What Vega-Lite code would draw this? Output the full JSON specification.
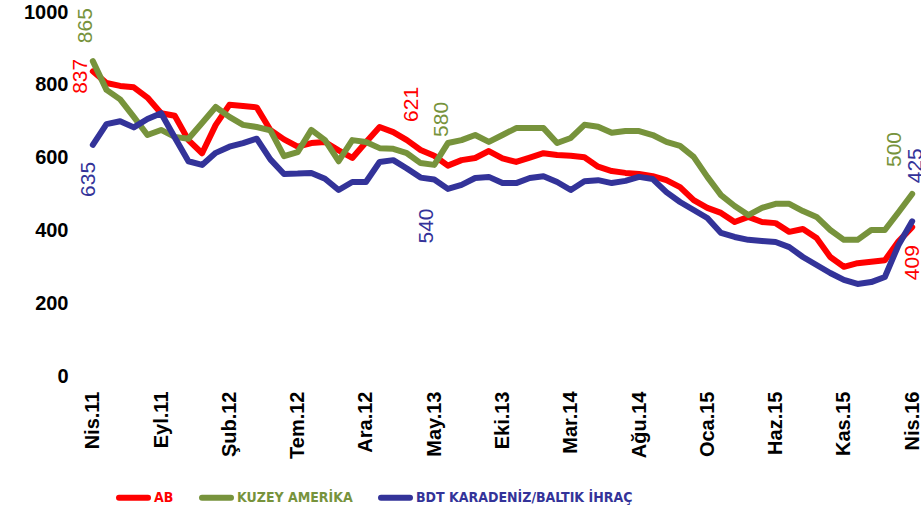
{
  "$schema": "https://vega.github.io/schema/vega-lite/v6.json",
  "width": 833,
  "height": 364,
  "autosize": {"type": "none"},
  "padding": {"left": 86, "top": 12, "right": 2, "bottom": 136},
  "background": "white",
  "config": {"view": {"stroke": null}, "font": "Liberation Sans"},
  "data": {"values": [
    {"ay":"Nis.11","AB":837,"KUZEY AMERİKA":865,"BDT KARADENİZ/BALTIK İHRAÇ":635},
    {"ay":"May.11","AB":805,"KUZEY AMERİKA":786,"BDT KARADENİZ/BALTIK İHRAÇ":692},
    {"ay":"Haz.11","AB":797,"KUZEY AMERİKA":760,"BDT KARADENİZ/BALTIK İHRAÇ":700},
    {"ay":"Tem.11","AB":793,"KUZEY AMERİKA":712,"BDT KARADENİZ/BALTIK İHRAÇ":683},
    {"ay":"Ağu.11","AB":765,"KUZEY AMERİKA":662,"BDT KARADENİZ/BALTIK İHRAÇ":706},
    {"ay":"Eyl.11","AB":722,"KUZEY AMERİKA":676,"BDT KARADENİZ/BALTIK İHRAÇ":722},
    {"ay":"Eki.11","AB":715,"KUZEY AMERİKA":657,"BDT KARADENİZ/BALTIK İHRAÇ":655},
    {"ay":"Kas.11","AB":648,"KUZEY AMERİKA":652,"BDT KARADENİZ/BALTIK İHRAÇ":590},
    {"ay":"Ara.11","AB":612,"KUZEY AMERİKA":695,"BDT KARADENİZ/BALTIK İHRAÇ":580},
    {"ay":"Oca.12","AB":690,"KUZEY AMERİKA":739,"BDT KARADENİZ/BALTIK İHRAÇ":613},
    {"ay":"Şub.12","AB":745,"KUZEY AMERİKA":712,"BDT KARADENİZ/BALTIK İHRAÇ":630},
    {"ay":"Mar.12","AB":742,"KUZEY AMERİKA":690,"BDT KARADENİZ/BALTIK İHRAÇ":640},
    {"ay":"Nis.12","AB":738,"KUZEY AMERİKA":684,"BDT KARADENİZ/BALTIK İHRAÇ":652},
    {"ay":"May.12","AB":676,"KUZEY AMERİKA":675,"BDT KARADENİZ/BALTIK İHRAÇ":595},
    {"ay":"Haz.12","AB":650,"KUZEY AMERİKA":604,"BDT KARADENİZ/BALTIK İHRAÇ":555},
    {"ay":"Tem.12","AB":630,"KUZEY AMERİKA":615,"BDT KARADENİZ/BALTIK İHRAÇ":556},
    {"ay":"Ağu.12","AB":640,"KUZEY AMERİKA":676,"BDT KARADENİZ/BALTIK İHRAÇ":558},
    {"ay":"Eyl.12","AB":643,"KUZEY AMERİKA":648,"BDT KARADENİZ/BALTIK İHRAÇ":542},
    {"ay":"Eki.12","AB":620,"KUZEY AMERİKA":590,"BDT KARADENİZ/BALTIK İHRAÇ":511},
    {"ay":"Kas.12","AB":599,"KUZEY AMERİKA":648,"BDT KARADENİZ/BALTIK İHRAÇ":533},
    {"ay":"Ara.12","AB":642,"KUZEY AMERİKA":643,"BDT KARADENİZ/BALTIK İHRAÇ":533},
    {"ay":"Oca.13","AB":684,"KUZEY AMERİKA":626,"BDT KARADENİZ/BALTIK İHRAÇ":588},
    {"ay":"Şub.13","AB":670,"KUZEY AMERİKA":624,"BDT KARADENİZ/BALTIK İHRAÇ":593},
    {"ay":"Mar.13","AB":648,"KUZEY AMERİKA":612,"BDT KARADENİZ/BALTIK İHRAÇ":570},
    {"ay":"Nis.13","AB":621,"KUZEY AMERİKA":585,"BDT KARADENİZ/BALTIK İHRAÇ":545},
    {"ay":"May.13","AB":605,"KUZEY AMERİKA":580,"BDT KARADENİZ/BALTIK İHRAÇ":540},
    {"ay":"Haz.13","AB":578,"KUZEY AMERİKA":640,"BDT KARADENİZ/BALTIK İHRAÇ":514},
    {"ay":"Tem.13","AB":593,"KUZEY AMERİKA":648,"BDT KARADENİZ/BALTIK İHRAÇ":525},
    {"ay":"Ağu.13","AB":599,"KUZEY AMERİKA":662,"BDT KARADENİZ/BALTIK İHRAÇ":544},
    {"ay":"Eyl.13","AB":618,"KUZEY AMERİKA":643,"BDT KARADENİZ/BALTIK İHRAÇ":547},
    {"ay":"Eki.13","AB":598,"KUZEY AMERİKA":662,"BDT KARADENİZ/BALTIK İHRAÇ":530},
    {"ay":"Kas.13","AB":588,"KUZEY AMERİKA":681,"BDT KARADENİZ/BALTIK İHRAÇ":530},
    {"ay":"Ara.13","AB":600,"KUZEY AMERİKA":681,"BDT KARADENİZ/BALTIK İHRAÇ":544},
    {"ay":"Oca.14","AB":612,"KUZEY AMERİKA":681,"BDT KARADENİZ/BALTIK İHRAÇ":549},
    {"ay":"Şub.14","AB":607,"KUZEY AMERİKA":640,"BDT KARADENİZ/BALTIK İHRAÇ":533},
    {"ay":"Mar.14","AB":605,"KUZEY AMERİKA":654,"BDT KARADENİZ/BALTIK İHRAÇ":511},
    {"ay":"Nis.14","AB":601,"KUZEY AMERİKA":690,"BDT KARADENİZ/BALTIK İHRAÇ":535},
    {"ay":"May.14","AB":575,"KUZEY AMERİKA":685,"BDT KARADENİZ/BALTIK İHRAÇ":538},
    {"ay":"Haz.14","AB":563,"KUZEY AMERİKA":668,"BDT KARADENİZ/BALTIK İHRAÇ":530},
    {"ay":"Tem.14","AB":558,"KUZEY AMERİKA":673,"BDT KARADENİZ/BALTIK İHRAÇ":536},
    {"ay":"Ağu.14","AB":555,"KUZEY AMERİKA":673,"BDT KARADENİZ/BALTIK İHRAÇ":547},
    {"ay":"Eyl.14","AB":549,"KUZEY AMERİKA":662,"BDT KARADENİZ/BALTIK İHRAÇ":541},
    {"ay":"Eki.14","AB":538,"KUZEY AMERİKA":643,"BDT KARADENİZ/BALTIK İHRAÇ":505},
    {"ay":"Kas.14","AB":519,"KUZEY AMERİKA":632,"BDT KARADENİZ/BALTIK İHRAÇ":478},
    {"ay":"Ara.14","AB":483,"KUZEY AMERİKA":602,"BDT KARADENİZ/BALTIK İHRAÇ":456},
    {"ay":"Oca.15","AB":462,"KUZEY AMERİKA":547,"BDT KARADENİZ/BALTIK İHRAÇ":434},
    {"ay":"Şub.15","AB":448,"KUZEY AMERİKA":497,"BDT KARADENİZ/BALTIK İHRAÇ":393},
    {"ay":"Mar.15","AB":423,"KUZEY AMERİKA":467,"BDT KARADENİZ/BALTIK İHRAÇ":382},
    {"ay":"Nis.15","AB":437,"KUZEY AMERİKA":442,"BDT KARADENİZ/BALTIK İHRAÇ":374},
    {"ay":"May.15","AB":423,"KUZEY AMERİKA":462,"BDT KARADENİZ/BALTIK İHRAÇ":371},
    {"ay":"Haz.15","AB":420,"KUZEY AMERİKA":473,"BDT KARADENİZ/BALTIK İHRAÇ":368},
    {"ay":"Tem.15","AB":396,"KUZEY AMERİKA":473,"BDT KARADENİZ/BALTIK İHRAÇ":354},
    {"ay":"Ağu.15","AB":404,"KUZEY AMERİKA":453,"BDT KARADENİZ/BALTIK İHRAÇ":327},
    {"ay":"Eyl.15","AB":379,"KUZEY AMERİKA":437,"BDT KARADENİZ/BALTIK İHRAÇ":305},
    {"ay":"Eki.15","AB":327,"KUZEY AMERİKA":401,"BDT KARADENİZ/BALTIK İHRAÇ":283},
    {"ay":"Kas.15","AB":300,"KUZEY AMERİKA":374,"BDT KARADENİZ/BALTIK İHRAÇ":264},
    {"ay":"Ara.15","AB":310,"KUZEY AMERİKA":374,"BDT KARADENİZ/BALTIK İHRAÇ":253},
    {"ay":"Oca.16","AB":314,"KUZEY AMERİKA":401,"BDT KARADENİZ/BALTIK İHRAÇ":258},
    {"ay":"Şub.16","AB":318,"KUZEY AMERİKA":401,"BDT KARADENİZ/BALTIK İHRAÇ":272},
    {"ay":"Mar.16","AB":370,"KUZEY AMERİKA":450,"BDT KARADENİZ/BALTIK İHRAÇ":360},
    {"ay":"Nis.16","AB":409,"KUZEY AMERİKA":500,"BDT KARADENİZ/BALTIK İHRAÇ":425}
  ]},
  "transform": [{"fold": ["AB", "KUZEY AMERİKA", "BDT KARADENİZ/BALTIK İHRAÇ"], "as": ["s", "v"]}],
  "layer": [
    {
      "mark": {"type": "line", "strokeWidth": 6, "strokeJoin": "round", "strokeCap": "round"},
      "encoding": {
        "x": {
          "field": "ay", "type": "ordinal", "sort": null,
          "scale": {"type": "point", "padding": 0.5, "domain": ["Nis.11","May.11","Haz.11","Tem.11","Ağu.11","Eyl.11","Eki.11","Kas.11","Ara.11","Oca.12","Şub.12","Mar.12","Nis.12","May.12","Haz.12","Tem.12","Ağu.12","Eyl.12","Eki.12","Kas.12","Ara.12","Oca.13","Şub.13","Mar.13","Nis.13","May.13","Haz.13","Tem.13","Ağu.13","Eyl.13","Eki.13","Kas.13","Ara.13","Oca.14","Şub.14","Mar.14","Nis.14","May.14","Haz.14","Tem.14","Ağu.14","Eyl.14","Eki.14","Kas.14","Ara.14","Oca.15","Şub.15","Mar.15","Nis.15","May.15","Haz.15","Tem.15","Ağu.15","Eyl.15","Eki.15","Kas.15","Ara.15","Oca.16","Şub.16","Mar.16","Nis.16"]},
          "axis": {
            "values": ["Nis.11","Eyl.11","Şub.12","Tem.12","Ara.12","May.13","Eki.13","Mar.14","Ağu.14","Oca.15","Haz.15","Kas.15","Nis.16"],
            "title": null, "grid": false, "domain": false, "ticks": false,
            "labelAngle": 270, "labelAlign": "right", "labelBaseline": "middle",
            "labelPadding": 15, "labelFont": "Liberation Sans", "labelFontSize": 20,
            "labelFontWeight": "bold", "labelColor": "black", "labelOverlap": false
          }
        },
        "y": {
          "field": "v", "type": "quantitative",
          "scale": {"domain": [0, 1000]},
          "axis": {
            "values": [0, 200, 400, 600, 800, 1000], "format": "d",
            "title": null, "grid": false, "domain": false, "ticks": false,
            "labelPadding": 18, "labelFont": "Liberation Sans", "labelFontSize": 20,
            "labelFontWeight": "bold", "labelColor": "black", "labelFlush": false, "labelOverlap": false
          }
        },
        "color": {
          "field": "s", "type": "nominal",
          "scale": {"domain": ["AB", "KUZEY AMERİKA", "BDT KARADENİZ/BALTIK İHRAÇ"], "range": ["#FF0000", "#77933C", "#333399"]},
          "legend": {
            "title": null, "orient": "none", "legendX": 30, "legendY": 468, "direction": "horizontal",
            "symbolType": "stroke", "symbolSize": 841, "symbolStrokeWidth": 6,
            "labelFont": "DejaVu Sans Condensed, Liberation Sans", "labelFontSize": 14, "labelFontWeight": "bold",
            "labelOffset": 3, "columnPadding": 16, "padding": 0, "labelLimit": 400,
            "encode": {
              "labels": {"update": {"fill": {"scale": "color", "field": "value"}}},
              "symbols": {"update": {"strokeCap": {"value": "round"}}}
            }
          }
        }
      }
    },
    {
      "transform": [{"filter": "datum.s == 'KUZEY AMERİKA' && datum.ay == 'Nis.11'"}],
      "mark": {"type": "text", "angle": 270, "align": "left", "baseline": "middle", "dx": 18, "dy": -7, "fontSize": 21, "color": "#77933C"},
      "encoding": {"x": {"field": "ay", "type": "ordinal", "sort": null}, "y": {"field": "v", "type": "quantitative"}, "text": {"field": "v", "type": "quantitative"}}
    },
    {
      "transform": [{"filter": "datum.s == 'AB' && datum.ay == 'Nis.11'"}],
      "mark": {"type": "text", "angle": 270, "align": "center", "baseline": "middle", "dx": -5, "dy": -12, "fontSize": 21, "color": "#FF0000"},
      "encoding": {"x": {"field": "ay", "type": "ordinal", "sort": null}, "y": {"field": "v", "type": "quantitative"}, "text": {"field": "v", "type": "quantitative"}}
    },
    {
      "transform": [{"filter": "datum.s == 'BDT KARADENİZ/BALTIK İHRAÇ' && datum.ay == 'Nis.11'"}],
      "mark": {"type": "text", "angle": 270, "align": "right", "baseline": "middle", "dx": -17, "dy": -4, "fontSize": 21, "color": "#333399"},
      "encoding": {"x": {"field": "ay", "type": "ordinal", "sort": null}, "y": {"field": "v", "type": "quantitative"}, "text": {"field": "v", "type": "quantitative"}}
    },
    {
      "transform": [{"filter": "datum.s == 'AB' && datum.ay == 'Nis.13'"}],
      "mark": {"type": "text", "angle": 270, "align": "left", "baseline": "middle", "dx": 28, "dy": -9, "fontSize": 21, "color": "#FF0000"},
      "encoding": {"x": {"field": "ay", "type": "ordinal", "sort": null}, "y": {"field": "v", "type": "quantitative"}, "text": {"field": "v", "type": "quantitative"}}
    },
    {
      "transform": [{"filter": "datum.s == 'KUZEY AMERİKA' && datum.ay == 'May.13'"}],
      "mark": {"type": "text", "angle": 270, "align": "left", "baseline": "middle", "dx": 28, "dy": 8, "fontSize": 21, "color": "#77933C"},
      "encoding": {"x": {"field": "ay", "type": "ordinal", "sort": null}, "y": {"field": "v", "type": "quantitative"}, "text": {"field": "v", "type": "quantitative"}}
    },
    {
      "transform": [{"filter": "datum.s == 'BDT KARADENİZ/BALTIK İHRAÇ' && datum.ay == 'May.13'"}],
      "mark": {"type": "text", "angle": 270, "align": "right", "baseline": "middle", "dx": -29, "dy": -7, "fontSize": 21, "color": "#333399"},
      "encoding": {"x": {"field": "ay", "type": "ordinal", "sort": null}, "y": {"field": "v", "type": "quantitative"}, "text": {"field": "v", "type": "quantitative"}}
    },
    {
      "transform": [{"filter": "datum.s == 'KUZEY AMERİKA' && datum.ay == 'Nis.16'"}],
      "mark": {"type": "text", "angle": 270, "align": "left", "baseline": "middle", "dx": 27, "dy": -17, "fontSize": 21, "color": "#77933C"},
      "encoding": {"x": {"field": "ay", "type": "ordinal", "sort": null}, "y": {"field": "v", "type": "quantitative"}, "text": {"field": "v", "type": "quantitative"}}
    },
    {
      "transform": [{"filter": "datum.s == 'BDT KARADENİZ/BALTIK İHRAÇ' && datum.ay == 'Nis.16'"}],
      "mark": {"type": "text", "angle": 270, "align": "left", "baseline": "middle", "dx": 38, "dy": 4, "fontSize": 21, "color": "#333399"},
      "encoding": {"x": {"field": "ay", "type": "ordinal", "sort": null}, "y": {"field": "v", "type": "quantitative"}, "text": {"field": "v", "type": "quantitative"}}
    },
    {
      "transform": [{"filter": "datum.s == 'AB' && datum.ay == 'Nis.16'"}],
      "mark": {"type": "text", "angle": 270, "align": "right", "baseline": "middle", "dx": -18, "dy": 1, "fontSize": 21, "color": "#FF0000"},
      "encoding": {"x": {"field": "ay", "type": "ordinal", "sort": null}, "y": {"field": "v", "type": "quantitative"}, "text": {"field": "v", "type": "quantitative"}}
    }
  ]
}
